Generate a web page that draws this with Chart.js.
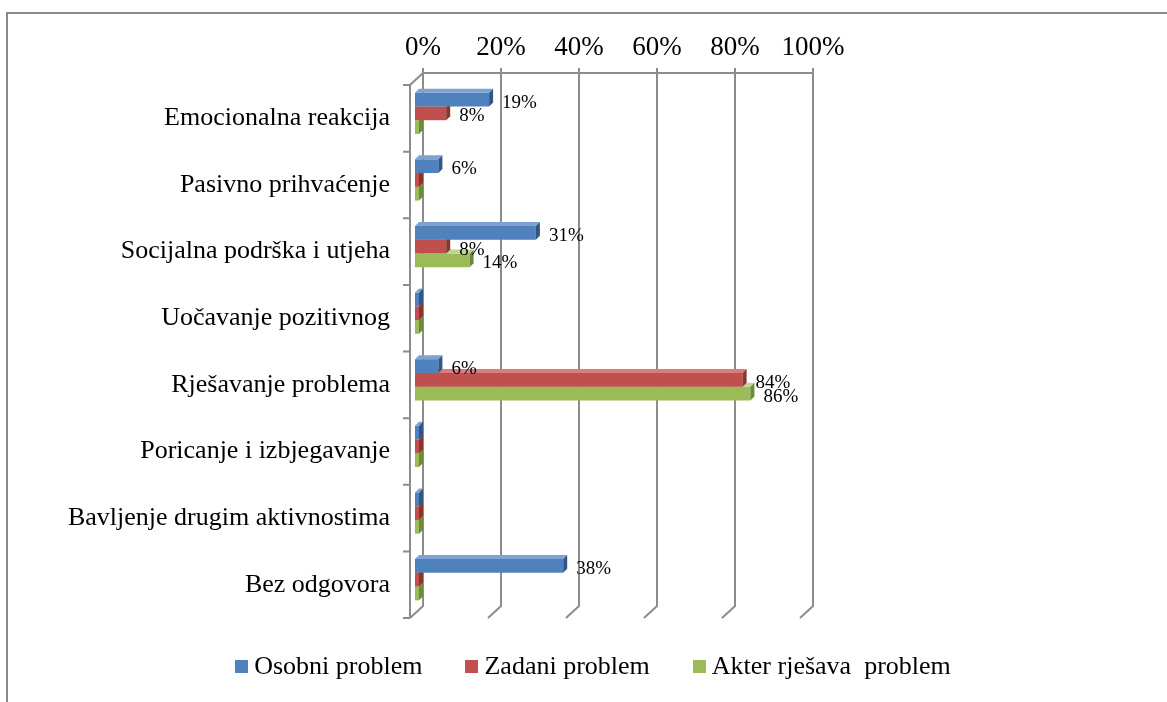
<!DOCTYPE html>
<html>
<head>
<meta charset="utf-8">
<script src="https://cdn.jsdelivr.net/npm/chart.js@4"></script>
<style>
  html, body { margin: 0; padding: 0; background: #fff; }
  body { width: 1167px; height: 702px; position: relative; overflow: hidden; }
  #frame { position: absolute; left: 6px; top: 12px; width: 1200px; height: 720px; border: 2px solid #8a8a8a; }
  #wrap { position: absolute; left: 0; top: 0; width: 1167px; height: 702px; }
  #legend { position: absolute; left: 93px; top: 651px; width: 1000px; display: flex; justify-content: center; gap: 43px;
            font-family: "Liberation Serif", "Times New Roman", serif; font-size: 26px; color: #000; }
  #legend .item { display: flex; align-items: center; }
  #legend .box { width: 13px; height: 13px; margin-right: 6px; }
</style>
</head>
<body>
<div id="frame"></div>
<div id="wrap"><canvas id="chart" width="1167" height="702"></canvas></div>
<div id="legend"></div>
<script>
// categories and values (percent)
const categories = [
    'Emocionalna reakcija',
    'Pasivno prihvaćenje',
    'Socijalna podrška i utjeha',
    'Uočavanje pozitivnog',
    'Rješavanje problema',
    'Poricanje i izbjegavanje',
    'Bavljenje drugim aktivnostima',
    'Bez odgovora'
];
const osobniProblem = [19, 6, 31, 0, 6, 0, 0, 38];
const zadaniProblem = [8, 0, 8, 0, 84, 0, 0, 0];
const akterRjesava = [0, 0, 14, 0, 86, 0, 0, 0];
const seriesNames = ['Osobni problem', 'Zadani problem', 'Akter rješava  problem'];
const xTicks = [0, 20, 40, 60, 80, 100];

const colors = ['#4F81BD', '#C0504D', '#9BBB59'];
const sideColors = ['#2f5687', '#8a3331', '#6d8a3a'];
const topColors = ['#7ea3d3', '#d77e7b', '#bdd68c'];

const FONT = '"Liberation Serif", "Times New Roman", serif';
const GRID = '#8c8c8c';
const BACK = { dx: 8, dy: -7 };   // back wall offset
const FRONT = { dx: -5, dy: 5 };  // front edge offset
const DEPTH = 4;                  // bar depth

// back wall grid, floor lines and front left axis
const wallPlugin = {
    id: 'wall',
    beforeDatasetsDraw(chart) {
        const { ctx, chartArea: a, scales: { x, y } } = chart;
        ctx.save();
        ctx.strokeStyle = GRID;
        ctx.lineWidth = 2;
        ctx.beginPath();
        xTicks.forEach(v => {
            const px = x.getPixelForValue(v);
            ctx.moveTo(px + BACK.dx, a.top + BACK.dy - 5);
            ctx.lineTo(px + BACK.dx, a.bottom + BACK.dy);
            ctx.lineTo(px + FRONT.dx, a.bottom + FRONT.dy);
        });
        const x0 = x.getPixelForValue(0), x1 = x.getPixelForValue(100);
        ctx.moveTo(x0 + BACK.dx, a.top + BACK.dy);
        ctx.lineTo(x1 + BACK.dx, a.top + BACK.dy);
        ctx.moveTo(x0 + BACK.dx, a.top + BACK.dy);
        ctx.lineTo(x0 + FRONT.dx, a.top + FRONT.dy);
        ctx.lineTo(x0 + FRONT.dx, a.bottom + FRONT.dy);
        for (let i = 0; i <= categories.length; i++) {
            const py = y.getPixelForValue(i - 0.5) + FRONT.dy;
            ctx.moveTo(x0 + FRONT.dx - 7, py);
            ctx.lineTo(x0 + FRONT.dx, py);
        }
        ctx.stroke();
        ctx.restore();
    },
    // top and side faces of each bar, right after its dataset
    afterDatasetDraw(chart, args) {
        const { ctx } = chart;
        const i = args.index;
        ctx.save();
        args.meta.data.forEach(bar => {
            const l = Math.min(bar.base, bar.x), r = Math.max(bar.base, bar.x);
            const t = bar.y - bar.height / 2, b = bar.y + bar.height / 2;
            ctx.fillStyle = topColors[i];
            ctx.beginPath();
            ctx.moveTo(l, t);
            ctx.lineTo(l + DEPTH, t - DEPTH);
            ctx.lineTo(r + DEPTH, t - DEPTH);
            ctx.lineTo(r, t);
            ctx.closePath();
            ctx.fill();
            ctx.fillStyle = sideColors[i];
            ctx.beginPath();
            ctx.moveTo(r, t);
            ctx.lineTo(r + DEPTH, t - DEPTH);
            ctx.lineTo(r + DEPTH, b - DEPTH);
            ctx.lineTo(r, b);
            ctx.closePath();
            ctx.fill();
        });
        ctx.restore();
    },
    afterDatasetsDraw(chart) {
        const { ctx } = chart;
        ctx.save();
        ctx.font = '19px ' + FONT;
        ctx.fillStyle = '#000';
        ctx.textAlign = 'left';
        ctx.textBaseline = 'middle';
        chart.data.datasets.forEach((ds, i) => {
            chart.getDatasetMeta(i).data.forEach((bar, j) => {
                const v = ds.data[j];
                if (!v) return;
                ctx.fillText(v + '%', bar.x + 13, bar.y + 3);
            });
        });
        ctx.restore();
    }
};

const seriesData = [osobniProblem, zadaniProblem, akterRjesava];

new Chart(document.getElementById('chart').getContext('2d'), {
    type: 'bar',
    data: {
        labels: categories,
        datasets: seriesNames.map((name, i) => ({
            label: name,
            data: seriesData[i],
            backgroundColor: colors[i],
            borderWidth: 0,
            minBarLength: 4,
            categoryPercentage: 0.62,
            barPercentage: 1
        }))
    },
    options: {
        indexAxis: 'y',
        responsive: false,
        animation: false,
        layout: { padding: { left: 0, right: 362, top: 20, bottom: 89 } },
        scales: {
            x: {
                position: 'top',
                min: 0,
                max: 100,
                afterBuildTicks: s => { s.ticks = xTicks.map(v => ({ value: v })); },
                afterFit: s => { s.height = 60; },
                grid: { display: false, drawTicks: false },
                border: { display: false },
                ticks: {
                    padding: 16,
                    labelOffset: BACK.dx,
                    color: '#000',
                    font: { family: FONT, size: 27 },
                    callback: v => v + '%'
                }
            },
            y: {
                afterFit: s => { s.width = 415; },
                grid: { display: false, drawTicks: false },
                border: { display: false },
                ticks: {
                    padding: 25,
                    labelOffset: 5,
                    color: '#000',
                    font: { family: FONT, size: 26 }
                }
            }
        },
        plugins: {
            legend: { display: false },
            tooltip: { enabled: false }
        }
    },
    plugins: [wallPlugin]
});

// legend
const legend = document.getElementById('legend');
seriesNames.forEach((name, i) => {
    const item = document.createElement('div');
    item.className = 'item';
    item.innerHTML = '<span class="box" style="background:' + colors[i] + '"></span><span style="white-space:pre">' + name + '</span>';
    legend.appendChild(item);
});
</script>
</body>
</html>
